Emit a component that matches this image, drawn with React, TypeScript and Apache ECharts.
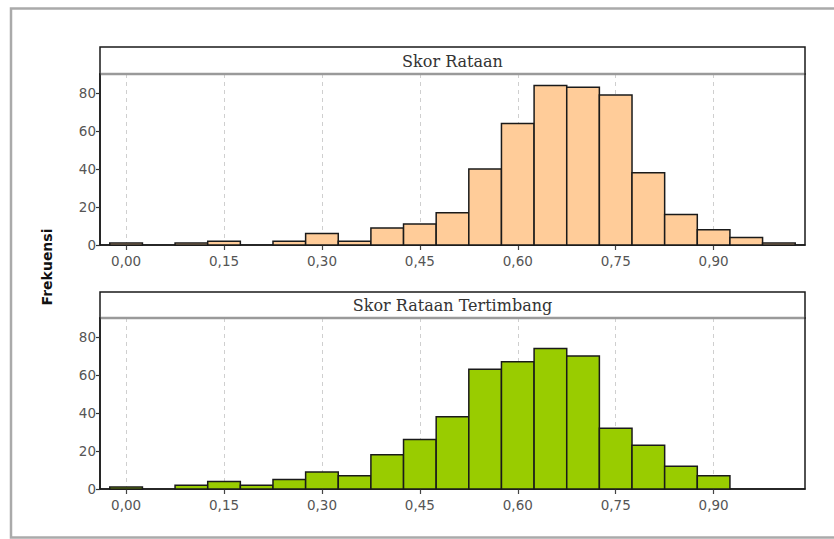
import React, { useEffect, useRef } from "react";
import * as echarts from "echarts";

// ---- data ----
const binCenters = [0, 0.05, 0.1, 0.15, 0.2, 0.25, 0.3, 0.35, 0.4, 0.45, 0.5, 0.55, 0.6, 0.65, 0.7, 0.75, 0.8, 0.85, 0.9, 0.95, 1.0];
const binWidth = 0.05;
const skorRataan = [1, 0, 1, 2, 0, 2, 6, 2, 9, 11, 17, 40, 64, 84, 83, 79, 38, 16, 8, 4, 1];
const skorRataanTertimbang = [1, 0, 2, 4, 2, 5, 9, 7, 18, 26, 38, 63, 67, 74, 70, 32, 23, 12, 7, 0, 0];
const xTickValues = [0, 0.15, 0.3, 0.45, 0.6, 0.75, 0.9];
const yTickValues = [0, 20, 40, 60, 80];
const panelTitles = ["Skor Rataan", "Skor Rataan Tertimbang"];
const yAxisTitle = "Frekuensi";

const W = 834;
const H = 539;
const PLOT_LEFT = 100;
const PLOT_RIGHT = 805;
const panels = [
  { stripTop: 47, plotTop: 74, plotBottom: 245, fill: "#FFCC99", values: skorRataan },
  { stripTop: 292, plotTop: 318, plotBottom: 489, fill: "#99CC00", values: skorRataanTertimbang },
];

export default function App() {
  const ref = useRef<HTMLDivElement>(null);
  useEffect(() => {
    if (!ref.current) return;
    const chart = echarts.init(ref.current, null, { renderer: "svg" });
    const fmt = (v: number) => v.toFixed(2).replace(".", ",");

    const grids = panels.map((p) => ({
      left: PLOT_LEFT,
      right: W - PLOT_RIGHT,
      top: p.plotTop,
      height: p.plotBottom - p.plotTop,
      show: true,
      borderColor: "#1a1a1a",
      borderWidth: 1.5,
      backgroundColor: "#fff",
    }));

    const xAxes = panels.map((_, i) => ({
      type: "value",
      gridIndex: i,
      min: -0.04,
      max: 1.04,
      axisLine: { show: true, onZero: false, lineStyle: { color: "#1a1a1a", width: 1.5 } },
      axisTick: { show: true, length: 5, customValues: xTickValues, lineStyle: { color: "#444", width: 1.2 } },
      axisLabel: {
        customValues: xTickValues,
        formatter: fmt,
        fontFamily: "DejaVu Sans",
        fontSize: 13.5,
        color: "#555",
        margin: 9,
      },
      splitLine: { show: true, lineStyle: { color: "#cfcfcf", type: [4, 4], width: 1 } },
    }));

    const yAxes = panels.map((_, i) => ({
      type: "value",
      gridIndex: i,
      min: 0,
      max: 90,
      axisLine: { show: true, onZero: false, lineStyle: { color: "#1a1a1a", width: 1.5 } },
      axisTick: { show: true, length: 4, customValues: yTickValues, lineStyle: { color: "#333", width: 1.2 } },
      axisLabel: {
        customValues: yTickValues,
        fontFamily: "DejaVu Sans",
        fontSize: 13.5,
        color: "#555",
        margin: 4,
      },
      splitLine: { show: false },
    }));

    const series = panels.map((p, i) => ({
      type: "custom",
      xAxisIndex: i,
      yAxisIndex: i,
      encode: { x: 0, y: 1 },
      data: binCenters.map((c, k) => [c, p.values[k]]),
      renderItem: (params: any, api: any) => {
        const x = api.value(0);
        const v = api.value(1);
        if (!v) return null;
        const a = api.coord([x - binWidth / 2, v]);
        const b = api.coord([x + binWidth / 2, 0]);
        return {
          type: "rect",
          shape: { x: a[0], y: a[1], width: b[0] - a[0], height: b[1] - a[1] },
          style: { fill: p.fill, stroke: "#1a1a1a", lineWidth: 1.5 },
        };
      },
      z: 3,
    }));

    const graphics: any[] = [
      {
        type: "rect",
        z: 0,
        silent: true,
        shape: { x: 11, y: 8.5, width: 900, height: 529 },
        style: { fill: "none", stroke: "#aaaaaa", lineWidth: 2.5 },
      },
      {
        type: "text",
        z: 100,
        x: 47,
        y: 267,
        rotation: Math.PI / 2,
        style: {
          text: yAxisTitle,
          font: "bold 14px 'DejaVu Sans'",
          fill: "#111",
          align: "center",
          verticalAlign: "middle",
        },
      },
    ];
    panels.forEach((p, i) => {
      graphics.push({
        type: "rect",
        z: 100,
        silent: true,
        shape: { x: PLOT_LEFT, y: p.stripTop, width: PLOT_RIGHT - PLOT_LEFT, height: p.plotTop - p.stripTop },
        style: { fill: "#fff", stroke: "#1a1a1a", lineWidth: 1.5 },
      });
      graphics.push({
        type: "line",
        z: 101,
        silent: true,
        shape: { x1: PLOT_LEFT + 0.75, y1: p.plotTop, x2: PLOT_RIGHT - 0.75, y2: p.plotTop },
        style: { stroke: "#9a9a9a", lineWidth: 2.5 },
      });
      graphics.push({
        type: "text",
        z: 102,
        x: (PLOT_LEFT + PLOT_RIGHT) / 2,
        y: (p.stripTop + p.plotTop) / 2 + 0.5,
        style: {
          text: panelTitles[i],
          font: "16px 'DejaVu Serif'",
          fill: "#333",
          align: "center",
          verticalAlign: "middle",
        },
      });
    });

    chart.setOption({
      animation: false,
      backgroundColor: "#fff",
      grid: grids,
      xAxis: xAxes,
      yAxis: yAxes,
      series,
      graphic: graphics,
    });
    return () => chart.dispose();
  }, []);
  return <div ref={ref} style={{ position: "absolute", left: 0, top: 0, width: W, height: H }} />;
}
